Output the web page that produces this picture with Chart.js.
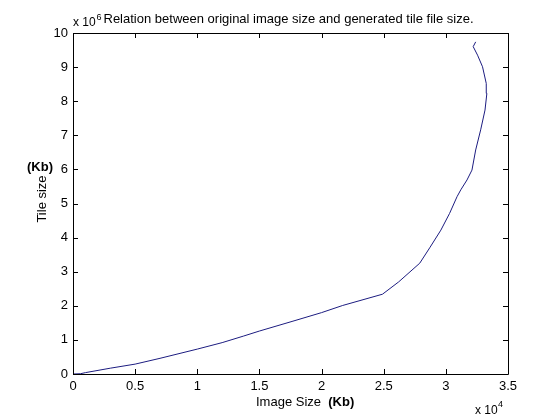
<!DOCTYPE html>
<html>
<head>
<meta charset="utf-8">
<script src="https://cdn.jsdelivr.net/npm/chart.js@4"></script>
<style>
  html, body { margin: 0; padding: 0; background: #fff; }
  #wrap { width: 560px; height: 420px; }
</style>
</head>
<body>
<div id="wrap"><canvas id="chart" width="560" height="420"></canvas></div>
<script>
// image size vs tile size, both in Kb
const imageSizeKb = [0, 600, 1000, 3000, 5000, 7000, 10000, 12000, 13700, 15000, 17700, 20000, 21700, 24900,
  26200, 27900, 28700, 29600, 30300, 30900, 31200, 31700, 32100, 32400, 32800, 33150, 33300, 33250, 32950, 32550, 32200, 32400]
const tileSizeKb = [0, 8000, 40000, 170000, 290000, 460000, 730000, 920000, 1110000, 1260000, 1550000, 1800000, 2010000, 2340000,
  2700000, 3250000, 3700000, 4220000, 4710000, 5200000, 5400000, 5690000, 5980000, 6570000, 7160000, 7740000, 8230000, 8520000, 9010000, 9350000, 9600000, 9740000]

const chartTitle = "Relation between original image size and generated tile file size."
const xLabel = "Image Size"
const yLabel = "Tile size"
const unitLabel = "(Kb)"
const xExponent = "4"
const yExponent = "6"

const FONT = "Liberation Sans, Arial, sans-serif"

// matlab style box with inward ticks + texts
const matlabFrame = {
  id: "matlabFrame",
  afterDraw(chart) {
    const ctx = chart.ctx
    const a = chart.chartArea
    const xs = chart.scales.x, ys = chart.scales.y
    const tl = 5
    ctx.save()
    ctx.strokeStyle = "#000"
    ctx.lineWidth = 1
    ctx.beginPath()
    ctx.rect(a.left + 0.5, a.top + 0.5, a.right - a.left, a.bottom - a.top)
    xs.ticks.forEach(t => {
      const px = Math.round(xs.getPixelForValue(t.value)) + 0.5
      ctx.moveTo(px, a.bottom); ctx.lineTo(px, a.bottom - tl)
      ctx.moveTo(px, a.top); ctx.lineTo(px, a.top + tl)
    })
    ys.ticks.forEach(t => {
      const py = Math.round(ys.getPixelForValue(t.value)) + 0.5
      ctx.moveTo(a.left, py); ctx.lineTo(a.left + tl, py)
      ctx.moveTo(a.right, py); ctx.lineTo(a.right - tl, py)
    })
    ctx.stroke()

    ctx.fillStyle = "#000"
    ctx.textBaseline = "alphabetic"
    ctx.font = "13px " + FONT
    // title
    ctx.textAlign = "center"
    ctx.fillText(chartTitle, (a.left + a.right) / 2 - 2, 23)
    // y exponent
    ctx.textAlign = "left"
    ctx.font = "12px " + FONT
    ctx.fillText("x 10", 73, 26)
    ctx.font = "9px " + FONT
    ctx.fillText(yExponent, 96.5, 20)
    // x exponent
    ctx.font = "12px " + FONT
    ctx.fillText("x 10", 475, 414)
    ctx.font = "9px " + FONT
    ctx.fillText(xExponent, 498, 407)

    // x title
    ctx.font = "13px " + FONT
    const w1 = ctx.measureText(xLabel + "  ").width
    const x0 = 256
    ctx.fillText(xLabel + "  ", x0, 406)
    ctx.font = "bold 13px " + FONT
    ctx.fillText(unitLabel, x0 + w1, 406)

    // y unit, horizontal
    ctx.textAlign = "center"
    ctx.fillText(unitLabel, 40, 171)

    // y title rotated
    ctx.font = "13px " + FONT
    ctx.translate(45.5, 199)
    ctx.rotate(-Math.PI / 2)
    ctx.fillText(yLabel, 0, 0)
    ctx.restore()
  }
}

new Chart(document.getElementById("chart"), {
  type: "scatter",
  data: {
    datasets: [{
      data: imageSizeKb.map((x, i) => ({ x: x, y: tileSizeKb[i] })),
      showLine: true,
      borderColor: "#1c1c80",
      borderWidth: 1,
      pointRadius: 0,
      tension: 0
    }]
  },
  options: {
    responsive: false,
    animation: false,
    layout: { padding: { top: 33, right: 52, left: 0, bottom: 0 } },
    plugins: {
      legend: { display: false },
      tooltip: { enabled: false }
    },
    scales: {
      x: {
        type: "linear",
        min: 0,
        max: 35000,
        afterFit: s => { s.height = 46 },
        border: { display: false },
        grid: { display: false, drawTicks: false },
        ticks: {
          stepSize: 5000,
          padding: 5,
          color: "#000",
          font: { family: FONT, size: 13 },
          maxRotation: 0,
          callback: v => v / 10000
        }
      },
      y: {
        type: "linear",
        min: 0,
        max: 10000000,
        afterFit: s => { s.width = 73 },
        border: { display: false },
        grid: { display: false, drawTicks: false },
        ticks: {
          stepSize: 1000000,
          padding: 5,
          color: "#000",
          font: { family: FONT, size: 13 },
          callback: v => v / 1000000
        }
      }
    }
  },
  plugins: [matlabFrame]
})
</script>
</body>
</html>
